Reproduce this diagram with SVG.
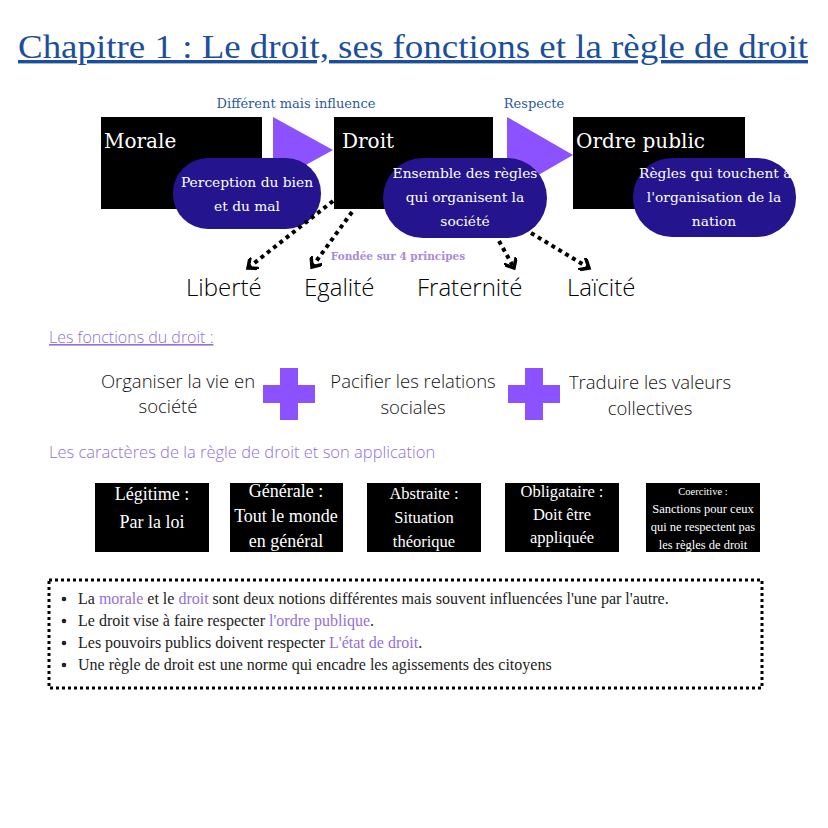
<svg xmlns="http://www.w3.org/2000/svg" width="828" height="828" viewBox="0 0 828 828">
<defs>
<style>
.serif{font-family:"DejaVu Serif","Liberation Serif",serif}
.tserif{font-family:"Liberation Serif","DejaVu Serif",serif}
.sans{font-family:"Open Sans","Noto Sans",sans-serif;font-weight:300}
.box{fill:#000}
.tri{fill:#8c52ff}
.pill{fill:#24158e}
.wt{fill:#fff}
.lbl{fill:#2b5aa0;font-size:13px}
.purple{fill:#9270d8}
.dot{stroke:#000;stroke-width:4;stroke-dasharray:4 4;fill:none;marker-end:url(#chev)}
</style>
<marker id="chev" viewBox="0 0 12 14" refX="9" refY="7" markerWidth="12" markerHeight="14" markerUnits="userSpaceOnUse" orient="auto">
<path d="M2,1 L9,7 L2,13" fill="none" stroke="#000" stroke-width="3.5" stroke-linecap="square"/>
</marker>
</defs>
<rect width="828" height="828" fill="#fff"/>

<text id="title" class="tserif" x="18" y="58" font-size="34" fill="#1b4f9c" text-decoration="underline" textLength="790" lengthAdjust="spacingAndGlyphs">Chapitre 1 : Le droit, ses fonctions et la règle de droit </text>

<g id="labels" class="serif">
<text class="lbl" x="296" y="108" text-anchor="middle">Différent mais influence</text>
<text class="lbl" x="534" y="108" text-anchor="middle">Respecte</text>
<text x="398" y="260" text-anchor="middle" font-size="10.5" font-weight="bold" fill="#a78bd9">Fondée sur 4 principes</text>
</g>

<g id="arrows">
<polygon class="tri" points="273,117 333,150 273,183"/>
<polygon class="tri" points="507,117 573,155 507,193"/>
</g>

<g id="morale">
<rect class="box" x="101" y="117" width="161" height="92"/>
<text class="serif wt" x="104" y="148" font-size="20">Morale</text>
</g>
<g id="droit">
<rect class="box" x="334" y="117" width="159" height="92"/>
<text class="serif wt" x="342" y="148" font-size="20">Droit</text>
</g>
<g id="ordre-public">
<rect class="box" x="573" y="117" width="172" height="92"/>
<text class="serif wt" x="576" y="148" font-size="20">Ordre public</text>
</g>

<g id="pill-morale">
<rect class="pill" x="173" y="158" width="148" height="71" rx="35"/>
<text class="serif wt" font-size="13.8" text-anchor="middle"><tspan x="247" y="187">Perception du bien</tspan><tspan x="247" y="211">et du mal</tspan></text>
</g>
<g id="pill-droit">
<rect class="pill" x="383" y="158" width="164" height="80" rx="40"/>
<text class="serif wt" font-size="13.8" text-anchor="middle"><tspan x="465" y="178">Ensemble des règles</tspan><tspan x="465" y="202">qui organisent la</tspan><tspan x="465" y="226">société</tspan></text>
</g>
<g id="pill-ordre">
<rect class="pill" x="633" y="158" width="163" height="79" rx="39"/>
<text class="serif wt" font-size="13.8"><tspan x="639" y="178">Règles qui touchent à</tspan><tspan x="714" y="202" text-anchor="middle">l'organisation de la</tspan><tspan x="714" y="226" text-anchor="middle">nation</tspan></text>
</g>

<g id="connectors">
<path class="dot" d="M333,201 L248,268"/>
<path class="dot" d="M352,212 L312,267"/>
<path class="dot" d="M499,241 L514,268"/>
<path class="dot" d="M531,233 L589,268"/>
</g>

<g id="principes" class="sans" font-size="24" fill="#000">
<text x="186" y="296">Liberté</text>
<text x="304" y="296">Egalité</text>
<text x="417" y="296">Fraternité</text>
<text x="567" y="296">Laïcité</text>
</g>

<g id="fonctions">
<text class="sans purple" x="49" y="343" font-size="16" text-decoration="underline">Les fonctions du droit :</text>
<text class="sans" font-size="18.5" fill="#111" text-anchor="middle"><tspan x="178" y="388">Organiser la vie en</tspan><tspan x="168" y="413">société</tspan></text>
<path class="tri" d="M280,368h18v17h17v18h-17v17h-18v-17h-17v-18h17z"/>
<text class="sans" font-size="18.5" fill="#111" text-anchor="middle"><tspan x="413" y="388">Pacifier les relations</tspan><tspan x="413" y="414">sociales</tspan></text>
<path class="tri" d="M525,368h18v17h17v18h-17v17h-18v-17h-17v-18h17z"/>
<text class="sans" font-size="18.5" fill="#111" text-anchor="middle"><tspan x="650" y="389">Traduire les valeurs</tspan><tspan x="650" y="415">collectives</tspan></text>
</g>

<text id="caracteres-title" class="sans purple" x="49" y="458" font-size="16.5">Les caractères de la règle de droit et son application</text>

<g id="legitime">
<rect class="box" x="95" y="483" width="114" height="69"/>
<text class="tserif wt" font-size="18" text-anchor="middle"><tspan x="152" y="500">Légitime :</tspan><tspan x="152" y="528">Par la loi</tspan></text>
</g>
<g id="generale">
<rect class="box" x="230" y="483" width="113" height="69"/>
<text class="tserif wt" font-size="18" text-anchor="middle"><tspan x="286" y="497">Générale :</tspan><tspan x="286" y="522">Tout le monde</tspan><tspan x="286" y="547">en général</tspan></text>
</g>
<g id="abstraite">
<rect class="box" x="367" y="483" width="114" height="69"/>
<text class="tserif wt" font-size="16.5" text-anchor="middle"><tspan x="424" y="499">Abstraite :</tspan><tspan x="424" y="523">Situation</tspan><tspan x="424" y="547">théorique</tspan></text>
</g>
<g id="obligataire">
<rect class="box" x="505" y="483" width="114" height="69"/>
<text class="tserif wt" font-size="16.5" text-anchor="middle"><tspan x="562" y="497">Obligataire :</tspan><tspan x="562" y="520">Doit être</tspan><tspan x="562" y="543">appliquée</tspan></text>
</g>
<g id="coercitive">
<rect class="box" x="646" y="483" width="114" height="69"/>
<text class="tserif wt" text-anchor="middle"><tspan x="703" y="495" font-size="10.5">Coercitive :</tspan><tspan x="703" y="513" font-size="12.5">Sanctions pour ceux</tspan><tspan x="703" y="531" font-size="12.5">qui ne respectent pas</tspan><tspan x="703" y="549" font-size="12.5">les règles de droit</tspan></text>
</g>

<g id="resume">
<rect x="49" y="580" width="713" height="108" fill="none" stroke="#000" stroke-width="3" stroke-dasharray="3 3"/>
<g class="tserif" font-size="16" fill="#222">
<circle cx="64" cy="599" r="2.3" fill="#222"/>
<text x="78" y="604">La <tspan class="purple">morale</tspan> et le <tspan class="purple">droit</tspan> sont deux notions différentes mais souvent influencées l'une par l'autre.</text>
<circle cx="64" cy="621" r="2.3" fill="#222"/>
<text x="78" y="626">Le droit vise à faire respecter <tspan class="purple">l'ordre publique</tspan>.</text>
<circle cx="64" cy="643" r="2.3" fill="#222"/>
<text x="78" y="648">Les pouvoirs publics doivent respecter <tspan class="purple">L'état de droit</tspan>.</text>
<circle cx="64" cy="665" r="2.3" fill="#222"/>
<text x="78" y="670">Une règle de droit est une norme qui encadre les agissements des citoyens</text>
</g>
</g>
</svg>
